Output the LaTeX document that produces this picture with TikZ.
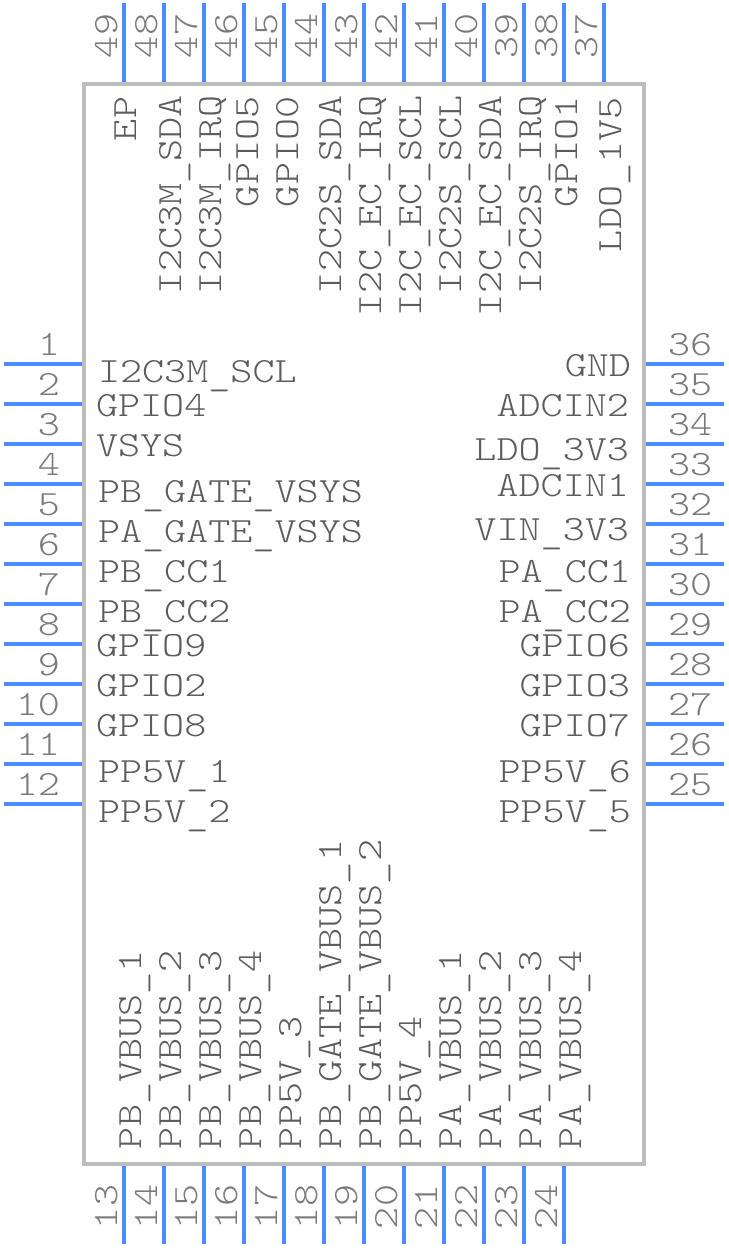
\documentclass[tikz,border=0pt]{standalone}
\usepackage{fontspec}
\setmonofont[FakeStretch=1.185]{Latin Modern Mono Light}
\newcommand{\us}{\raisebox{-2.2pt}{\_}}
\definecolor{pinblue}{HTML}{4A8CFF}
\definecolor{bodygray}{HTML}{BDBDBD}
\definecolor{labelgray}{HTML}{5C5C5C}
\definecolor{numgray}{HTML}{7A7A7A}
\tikzset{
  pinline/.style={draw=pinblue,line width=0.08cm},
  bodyline/.style={draw=bodygray,line width=0.08cm},
  lblbase/.style={inner sep=0pt,outer sep=0pt,text=labelgray,font=\fontsize{20.2pt}{24pt}\selectfont\ttfamily},
  lblw/.style={lblbase,anchor=base west},
  lble/.style={lblbase,anchor=base east},
  lblv/.style={lblbase,anchor=base west,rotate=90},
  numbase/.style={inner sep=0pt,outer sep=0pt,text=numgray,font=\fontsize{20.2pt}{24pt}\selectfont\ttfamily},
  numw/.style={numbase,anchor=base east},
  nume/.style={numbase,anchor=base west},
  numv/.style={numbase,anchor=base west,rotate=90},
}
\begin{document}
\begin{tikzpicture}[x=0.02cm,y=-0.02cm]
  \useasboundingbox (0,0) rectangle (728,1248);
  \draw[bodyline] (84,84) rectangle (644,1164);

  \draw[pinline] (4,364) -- (82,364); \node[numw] (n1) at (60,355) {1};
  \draw[pinline] (4,404) -- (82,404); \node[numw] (n2) at (60,395) {2};
  \draw[pinline] (4,444) -- (82,444); \node[numw] (n3) at (60,435) {3};
  \draw[pinline] (4,484) -- (82,484); \node[numw] (n4) at (60,475) {4};
  \draw[pinline] (4,524) -- (82,524); \node[numw] (n5) at (60,515) {5};
  \draw[pinline] (4,564) -- (82,564); \node[numw] (n6) at (60,555) {6};
  \draw[pinline] (4,604) -- (82,604); \node[numw] (n7) at (60,595) {7};
  \draw[pinline] (4,644) -- (82,644); \node[numw] (n8) at (60,635) {8};
  \draw[pinline] (4,684) -- (82,684); \node[numw] (n9) at (60,675) {9};
  \draw[pinline] (4,724) -- (82,724); \node[numw] (n10) at (60,715) {10};
  \draw[pinline] (4,764) -- (82,764); \node[numw] (n11) at (60,755) {11};
  \draw[pinline] (4,804) -- (82,804); \node[numw] (n12) at (60,795) {12};

  \draw[pinline] (124,1166) -- (124,1244); \node[numv] (n13) at (117,1229) {13};
  \draw[pinline] (164,1166) -- (164,1244); \node[numv] (n14) at (157,1229) {14};
  \draw[pinline] (204,1166) -- (204,1244); \node[numv] (n15) at (197,1229) {15};
  \draw[pinline] (244,1166) -- (244,1244); \node[numv] (n16) at (237,1229) {16};
  \draw[pinline] (284,1166) -- (284,1244); \node[numv] (n17) at (277,1229) {17};
  \draw[pinline] (324,1166) -- (324,1244); \node[numv] (n18) at (317,1229) {18};
  \draw[pinline] (364,1166) -- (364,1244); \node[numv] (n19) at (357,1229) {19};
  \draw[pinline] (404,1166) -- (404,1244); \node[numv] (n20) at (397,1229) {20};
  \draw[pinline] (444,1166) -- (444,1244); \node[numv] (n21) at (437,1229) {21};
  \draw[pinline] (484,1166) -- (484,1244); \node[numv] (n22) at (477,1229) {22};
  \draw[pinline] (524,1166) -- (524,1244); \node[numv] (n23) at (517,1229) {23};
  \draw[pinline] (564,1166) -- (564,1244); \node[numv] (n24) at (557,1229) {24};

  \draw[pinline] (646,804) -- (724,804); \node[nume] (n25) at (668,795) {25};
  \draw[pinline] (646,764) -- (724,764); \node[nume] (n26) at (668,755) {26};
  \draw[pinline] (646,724) -- (724,724); \node[nume] (n27) at (668,715) {27};
  \draw[pinline] (646,684) -- (724,684); \node[nume] (n28) at (668,675) {28};
  \draw[pinline] (646,644) -- (724,644); \node[nume] (n29) at (668,635) {29};
  \draw[pinline] (646,604) -- (724,604); \node[nume] (n30) at (668,595) {30};
  \draw[pinline] (646,564) -- (724,564); \node[nume] (n31) at (668,555) {31};
  \draw[pinline] (646,524) -- (724,524); \node[nume] (n32) at (668,515) {32};
  \draw[pinline] (646,484) -- (724,484); \node[nume] (n33) at (668,475) {33};
  \draw[pinline] (646,444) -- (724,444); \node[nume] (n34) at (668,435) {34};
  \draw[pinline] (646,404) -- (724,404); \node[nume] (n35) at (668,395) {35};
  \draw[pinline] (646,364) -- (724,364); \node[nume] (n36) at (668,355) {36};

  \draw[pinline] (604,3) -- (604,82); \node[numv] (n37) at (597,58) {37};
  \draw[pinline] (564,3) -- (564,82); \node[numv] (n38) at (557,58) {38};
  \draw[pinline] (524,3) -- (524,82); \node[numv] (n39) at (517,58) {39};
  \draw[pinline] (484,3) -- (484,82); \node[numv] (n40) at (477,58) {40};
  \draw[pinline] (444,3) -- (444,82); \node[numv] (n41) at (437,58) {41};
  \draw[pinline] (404,3) -- (404,82); \node[numv] (n42) at (397,58) {42};
  \draw[pinline] (364,3) -- (364,82); \node[numv] (n43) at (357,58) {43};
  \draw[pinline] (324,3) -- (324,82); \node[numv] (n44) at (317,58) {44};
  \draw[pinline] (284,3) -- (284,82); \node[numv] (n45) at (277,58) {45};
  \draw[pinline] (244,3) -- (244,82); \node[numv] (n46) at (237,58) {46};
  \draw[pinline] (204,3) -- (204,82); \node[numv] (n47) at (197,58) {47};
  \draw[pinline] (164,3) -- (164,82); \node[numv] (n48) at (157,58) {48};
  \draw[pinline] (124,3) -- (124,82); \node[numv] (n49) at (117,58) {49};

  \node[lblw] (l1) at (98,382) {I2C3M\us SCL};
  \node[lblw] (l2) at (96,416) {GPIO4};
  \node[lblw] (l3) at (96,456) {VSYS};
  \node[lblw] (l4) at (98,502) {PB\us GATE\us VSYS};
  \node[lblw] (l5) at (98,542) {PA\us GATE\us VSYS};
  \node[lblw] (l6) at (98,582) {PB\us CC1};
  \node[lblw] (l7) at (98,622) {PB\us CC2};
  \node[lblw] (l8) at (96,656) {GPIO9};
  \node[lblw] (l9) at (96,696) {GPIO2};
  \node[lblw] (l10) at (96,736) {GPIO8};
  \node[lblw] (l11) at (98,782) {PP5V\us 1};
  \node[lblw] (l12) at (98,822) {PP5V\us 2};

  \node[lblv] (l13) at (141,1149) {PB\us VBUS\us 1};
  \node[lblv] (l14) at (181,1149) {PB\us VBUS\us 2};
  \node[lblv] (l15) at (221,1149) {PB\us VBUS\us 3};
  \node[lblv] (l16) at (261,1149) {PB\us VBUS\us 4};
  \node[lblv] (l17) at (301,1149) {PP5V\us 3};
  \node[lblv] (l18) at (341,1149) {PB\us GATE\us VBUS\us 1};
  \node[lblv] (l19) at (381,1149) {PB\us GATE\us VBUS\us 2};
  \node[lblv] (l20) at (421,1149) {PP5V\us 4};
  \node[lblv] (l21) at (461,1149) {PA\us VBUS\us 1};
  \node[lblv] (l22) at (501,1149) {PA\us VBUS\us 2};
  \node[lblv] (l23) at (541,1149) {PA\us VBUS\us 3};
  \node[lblv] (l24) at (581,1149) {PA\us VBUS\us 4};

  \node[lble] (l25) at (631,822) {PP5V\us 5};
  \node[lble] (l26) at (631,782) {PP5V\us 6};
  \node[lble] (l27) at (630,736) {GPIO7};
  \node[lble] (l28) at (630,696) {GPIO3};
  \node[lble] (l29) at (630,656) {GPIO6};
  \node[lble] (l30) at (631,622) {PA\us CC2};
  \node[lble] (l31) at (631,582) {PA\us CC1};
  \node[lble] (l32) at (629,540) {VIN\us 3V3};
  \node[lble] (l33) at (629,496) {ADCIN1};
  \node[lble] (l34) at (629,460) {LDO\us 3V3};
  \node[lble] (l35) at (629,416) {ADCIN2};
  \node[lble] (l36) at (631,376) {GND};

  \node[lblv] (l37) at (621,252) {LDO\us 1V5};
  \node[lblv] (l38) at (577,207) {GPIO1};
  \node[lblv] (l39) at (541,294) {I2C2S\us IRQ};
  \node[lblv] (l40) at (501,316) {I2C\us EC\us SDA};
  \node[lblv] (l41) at (461,294) {I2C2S\us SCL};
  \node[lblv] (l42) at (421,316) {I2C\us EC\us SCL};
  \node[lblv] (l43) at (381,316) {I2C\us EC\us IRQ};
  \node[lblv] (l44) at (341,294) {I2C2S\us SDA};
  \node[lblv] (l45) at (298,207) {GPIO0};
  \node[lblv] (l46) at (258,207) {GPIO5};
  \node[lblv] (l47) at (221,294) {I2C3M\us IRQ};
  \node[lblv] (l48) at (181,294) {I2C3M\us SDA};
  \node[lblv] (l49) at (136,141) {EP};
\end{tikzpicture}
\end{document}
